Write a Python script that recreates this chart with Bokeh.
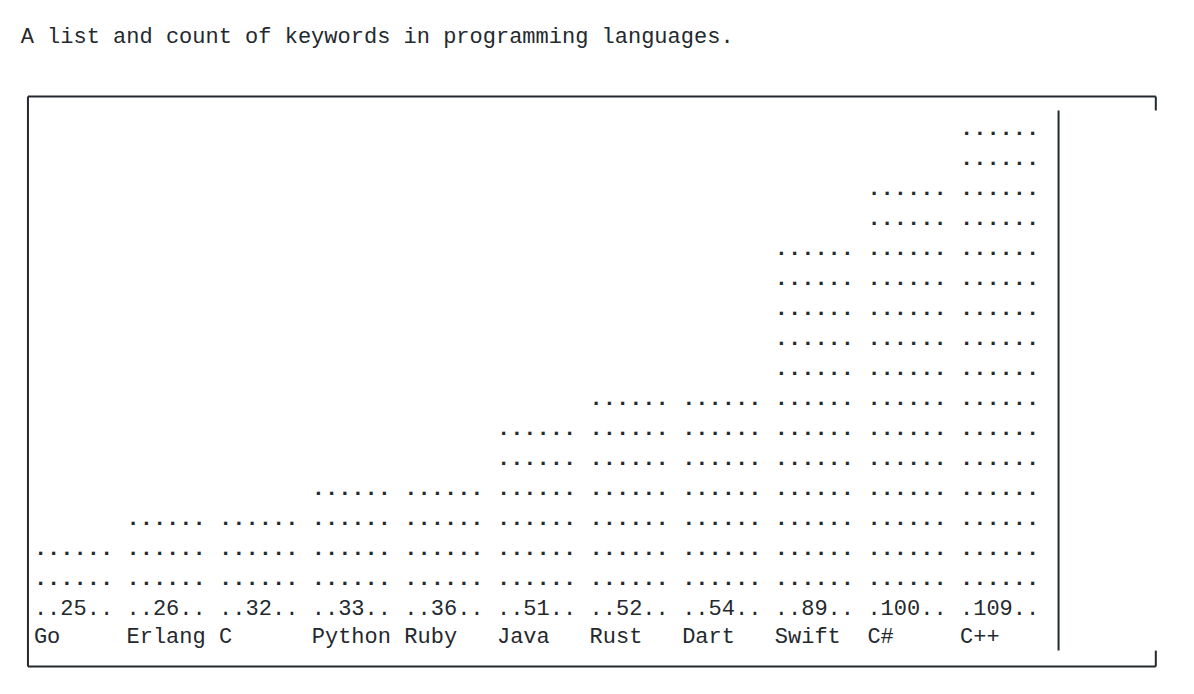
from bokeh.plotting import figure
from bokeh.models import ColumnDataSource, Range1d, Label
from bokeh.core.properties import value
from bokeh.embed import file_html
from bokeh.resources import INLINE

# ---- data ----
languages = ["Go", "Erlang", "C", "Python", "Ruby", "Java", "Rust", "Dart", "Swift", "C#", "C++"]
keywords = [25, 26, 32, 33, 36, 51, 52, 54, 89, 100, 109]
title_text = "A list and count of keywords in programming languages."

# ---- layout constants (character grid) ----
W, H = 1178, 678
COL_PX, ROW_PX = 13.23, 30.0
X0_PX, Y0_PX = 33.4, 96.0          # canvas position of column 0 left edge / row 0 centre
BAR_W = 6                            # characters per bar
PITCH = 7                            # characters per category
LEVELS = 17                          # rows for the tallest bar (incl. value row)
VALUE_ROW, NAME_ROW = 17, 18
FONT_NAME = "Liberation Mono"
FONT = value(FONT_NAME)
FSIZE = "22px"
INK = "#24292e"

p = figure(width=W, height=H, output_backend="svg", toolbar_location=None,
           x_axis_type=None, y_axis_type=None, min_border=0,
           x_range=Range1d(-X0_PX / COL_PX, (W - X0_PX) / COL_PX),
           y_range=Range1d((H - Y0_PX) / ROW_PX, -Y0_PX / ROW_PX))
p.grid.visible = False
p.outline_line_color = None
p.background_fill_color = "white"
p.border_fill_color = "white"

vmax = max(keywords)
dot_x, dot_y = [], []
val_x, val_t, name_x = [], [], []
for i, (lang, v) in enumerate(zip(languages, keywords)):
    n = v * LEVELS // vmax
    x = PITCH * i
    for r in range(1, n):
        dot_x.append(x)
        dot_y.append(VALUE_ROW - r)
    val_x.append(x)
    val_t.append(str(v).center(BAR_W, "."))
    name_x.append(x)

dots = ColumnDataSource(dict(x=dot_x, y=dot_y, t=["." * BAR_W] * len(dot_x)))
vals = ColumnDataSource(dict(x=val_x, y=[VALUE_ROW] * len(val_x), t=val_t))
names = ColumnDataSource(dict(x=name_x, y=[NAME_ROW] * len(name_x), t=languages))

p.text(x="x", y="y", text="t", source=dots, text_font=FONT, text_font_size=FSIZE,
       text_font_style="bold", text_color=INK, text_align="left", text_baseline="middle",
       y_offset=1)
for src in (vals, names):
    p.text(x="x", y="y", text="t", source=src, text_font=FONT, text_font_size=FSIZE,
           text_color=INK, text_align="left", text_baseline="middle", y_offset=1)

# frame drawn like the box-drawing characters of the original
L, R, INNER = -0.45, 84.8, 77.45
top, bot = 0, 19
p.segment(x0=[L, L, L, R, R, INNER], y0=[top, bot, top, top, bot, 0.47],
          x1=[R, R, L, R, R, INNER], y1=[top, bot, bot, 0.47, 18.47, 18.47],
          line_color=INK, line_width=2)

p.add_layout(Label(x=-1, y=-2, text=title_text, text_font=FONT_NAME, text_font_size=FSIZE,
                   text_color=INK, text_align="left", text_baseline="middle", y_offset=-1))

open("out.html", "w").write(file_html(p, INLINE))
